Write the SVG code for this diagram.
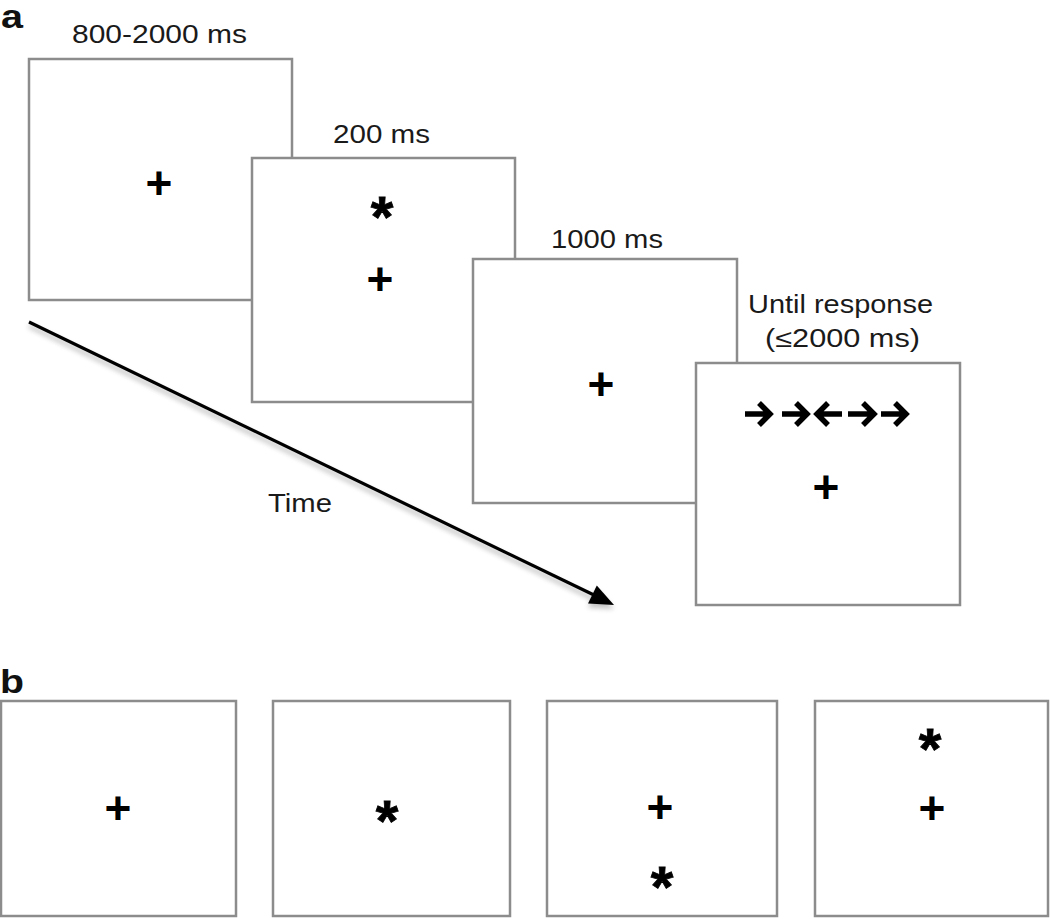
<svg xmlns="http://www.w3.org/2000/svg" width="1050" height="919" viewBox="0 0 1050 919">
  <style>
    .box { fill: #ffffff; stroke: #8c8c8c; stroke-width: 2.5; }
    .lbl { font-family: "Liberation Sans", Arial, sans-serif; font-size: 25px; fill: #1a1a1a; }
    .panel { font-family: "Liberation Sans", Arial, sans-serif; font-size: 33px; font-weight: bold; fill: #111; }
    .plus { font-family: "Liberation Sans", Arial, sans-serif; font-size: 46px; font-weight: bold; fill: #000; text-anchor: middle; }
    .ast { font-family: "Liberation Sans", Arial, sans-serif; font-size: 58px; font-weight: bold; fill: #000; stroke: #000; stroke-width: 0.8; text-anchor: middle; }
    .flank { fill: none; stroke: #000; stroke-width: 5.5; stroke-linejoin: miter; stroke-linecap: butt; }
  </style>
  <defs>
    <filter id="shadow" x="-10%" y="-10%" width="120%" height="130%">
      <feGaussianBlur stdDeviation="2.5"/>
    </filter>
  </defs>
  <rect width="1050" height="919" fill="#ffffff"/>

  <text class="panel" x="1" y="28" textLength="22" lengthAdjust="spacingAndGlyphs">a</text>
  <text class="panel" x="0" y="693" textLength="24" lengthAdjust="spacingAndGlyphs">b</text>

  <!-- connectors -->
  <g id="connectors">
    <g filter="url(#shadow)" opacity="0.35">
      <line x1="29" y1="326" x2="596" y2="600" stroke="#555" stroke-width="4"/>
      <polygon points="614,609 588,607.5 596.8,589.5" fill="#555"/>
    </g>
    <line x1="29" y1="322" x2="596" y2="596" stroke="#000" stroke-width="3.2"/>
    <polygon points="614,605 588,603.5 596.8,585.5" fill="#000"/>
  </g>

  <!-- panel a -->
  <g id="a-frame1">
    <rect class="box" x="29" y="59" width="263" height="241"/>
    <text class="plus" x="159" y="199">+</text>
    <text class="lbl" x="72" y="43" textLength="175" lengthAdjust="spacingAndGlyphs">800-2000 ms</text>
  </g>
  <g id="a-frame2">
    <rect class="box" x="252" y="158" width="263" height="244"/>
    <text class="ast" x="382" y="237">*</text>
    <text class="plus" x="380" y="295">+</text>
    <text class="lbl" x="333" y="143" textLength="97" lengthAdjust="spacingAndGlyphs">200 ms</text>
  </g>
  <g id="a-frame3">
    <rect class="box" x="473" y="259" width="264" height="244"/>
    <text class="plus" x="601" y="400">+</text>
    <text class="lbl" x="551" y="248" textLength="112" lengthAdjust="spacingAndGlyphs">1000 ms</text>
  </g>
  <g id="a-frame4">
    <rect class="box" x="696" y="363" width="264" height="242"/>
    <g id="flankers">
      <path class="flank" d="M745,414 H769 M759,403 L770,414 L759,425"/>
      <path class="flank" d="M782,414 H806 M796,403 L807,414 L796,425"/>
      <path class="flank" d="M842,414 H818 M828,403 L817,414 L828,425"/>
      <path class="flank" d="M848,414 H873 M863,403 L874,414 L863,425"/>
      <path class="flank" d="M881,414 H905 M895,403 L906,414 L895,425"/>
    </g>
    <text class="plus" x="826" y="503">+</text>
    <text class="lbl" x="748" y="313" textLength="185" lengthAdjust="spacingAndGlyphs">Until response</text>
    <text class="lbl" x="765" y="347" textLength="155" lengthAdjust="spacingAndGlyphs">(≤2000 ms)</text>
  </g>
  <text class="lbl" x="268" y="512" textLength="64" lengthAdjust="spacingAndGlyphs">Time</text>

  <!-- panel b -->
  <g id="b-frame1">
    <rect class="box" x="1" y="701" width="235" height="215"/>
    <text class="plus" x="118" y="824">+</text>
  </g>
  <g id="b-frame2">
    <rect class="box" x="273" y="701" width="237" height="215"/>
    <text class="ast" x="387" y="841">*</text>
  </g>
  <g id="b-frame3">
    <rect class="box" x="547" y="701" width="230" height="215"/>
    <text class="plus" x="660" y="823">+</text>
    <text class="ast" x="662" y="907">*</text>
  </g>
  <g id="b-frame4">
    <rect class="box" x="815" y="701" width="233" height="215"/>
    <text class="ast" x="930" y="769">*</text>
    <text class="plus" x="932" y="824">+</text>
  </g>
</svg>
